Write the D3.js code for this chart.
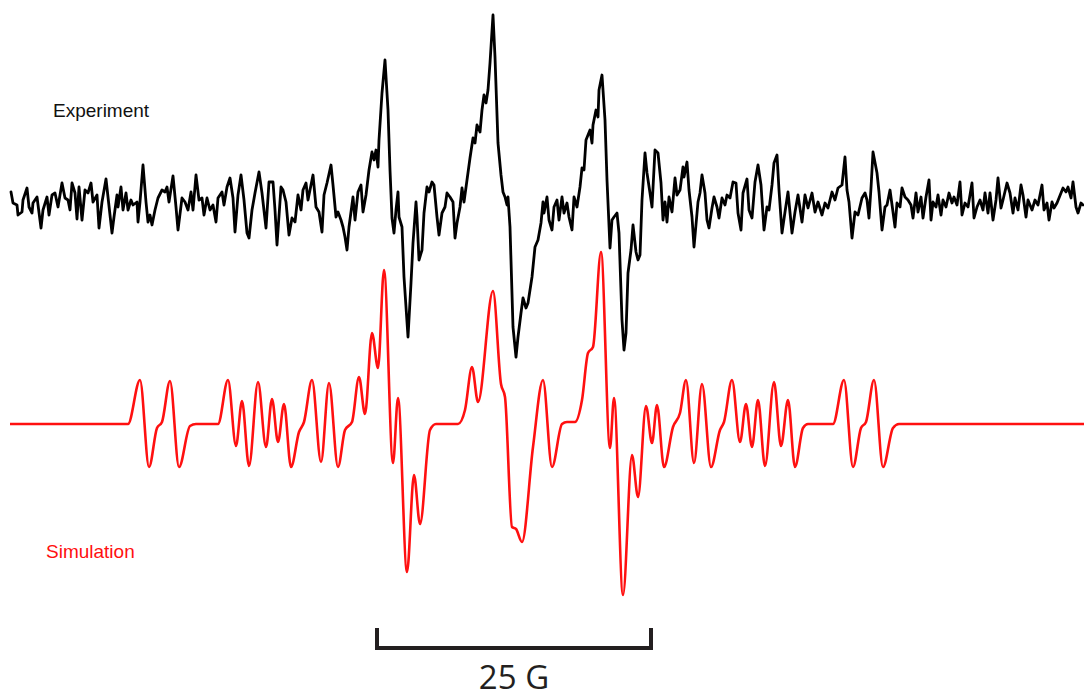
<!DOCTYPE html>
<html>
<head>
<meta charset="utf-8">
<script src="https://cdn.jsdelivr.net/npm/d3@7"></script>
<style>
  html, body { margin: 0; padding: 0; background: #fff; }
  svg { display: block; }
</style>
</head>
<body>
<svg id="chart" width="1084" height="700"></svg>
<script>
// ---- Data (field position in sweep units, signal in arbitrary units) ----
const seriesLabels = ["Experiment", "Simulation"];

const experiment = [[11,8],[13,-3],[17,-5],[18,-15],[22,-12],[23,0],[27,12],[29,-7],[32,-13],[33,-3],[37,3],[41,-28],[43,-10],[47,3],[49,-15],[52,5],[55,7],[58,-7],[62,17],[65,2],[68,0],[70,-10],[72,17],[75,7],[77,-19],[79,13],[82,-20],[85,10],[88,7],[91,17],[93,-2],[97,5],[99,-28],[102,-2],[106,21],[108,3],[112,-33],[114,-17],[117,5],[118,-7],[121,13],[123,-10],[126,7],[128,-10],[131,0],[133,-5],[137,-2],[138,-22],[140,-2],[143,35],[146,-2],[148,-22],[150,-15],[152,-25],[155,-10],[158,2],[162,10],[165,8],[167,13],[169,-2],[173,24],[176,-7],[178,-30],[182,2],[185,-2],[188,-10],[191,8],[193,-10],[196,25],[199,0],[202,2],[204,-15],[207,2],[210,-10],[213,-5],[216,-22],[218,2],[222,8],[224,-5],[227,13],[230,22],[233,2],[235,-32],[238,5],[241,25],[244,0],[247,-33],[249,-38],[252,-10],[255,7],[259,28],[262,7],[266,-28],[269,18],[273,18],[275,-10],[277,-45],[281,13],[283,10],[286,-2],[289,-35],[292,-18],[295,-22],[298,5],[301,-10],[303,10],[306,17],[308,0],[313,25],[316,-7],[319,-12],[322,-32],[324,5],[327,17],[331,35],[333,15],[336,-17],[338,-12],[341,-20],[343,-27],[345,-37],[347,-50],[349,-27],[353,3],[355,-20],[358,8],[361,15],[363,-12],[366,5],[369,30],[372,48],[374,40],[376,50],[378,33],[379,60],[382,107],[385,140],[388,90],[390,30],[392,-18],[394,-33],[396,-10],[398,8],[399,-17],[402,-27],[404,-77],[408,-137],[411,-83],[413,-43],[416,-2],[417,-17],[419,-60],[422,-50],[424,-13],[427,13],[429,8],[432,18],[434,15],[437,-17],[439,-35],[442,-13],[445,-7],[447,7],[450,3],[453,-2],[455,-38],[457,-23],[460,-7],[462,12],[464,-2],[467,20],[470,42],[473,62],[475,57],[477,75],[480,68],[482,90],[484,105],[486,97],[488,110],[490,137],[493,185],[495,143],[498,57],[501,25],[503,8],[505,3],[507,-5],[508,3],[510,-27],[513,-127],[516,-157],[518,-137],[521,-113],[523,-98],[526,-108],[528,-103],[532,-77],[535,-47],[538,-40],[541,-23],[543,-2],[544,-13],[547,3],[549,-20],[552,-30],[554,-7],[557,0],[559,-20],[562,3],[564,-13],[567,-3],[569,-17],[572,-30],[574,3],[577,-7],[580,13],[582,32],[584,30],[586,60],[588,65],[590,70],[592,57],[593,75],[596,90],[598,83],[599,110],[602,125],[605,80],[607,20],[610,-48],[612,-20],[614,-17],[617,-13],[619,-33],[622,-120],[624,-150],[626,-133],[628,-73],[631,-50],[633,-25],[636,-52],[638,-60],[640,-55],[642,0],[645,47],[647,27],[650,7],[652,-7],[655,50],[658,47],[661,17],[663,-20],[665,-2],[667,-22],[669,3],[672,-12],[675,22],[677,5],[680,10],[683,33],[684,23],[687,38],[689,10],[692,-17],[694,-47],[698,-2],[700,7],[702,25],[705,7],[707,-20],[709,-28],[712,-8],[714,3],[717,-7],[719,-18],[722,2],[725,-5],[727,5],[730,2],[733,18],[736,17],[738,-13],[741,-30],[743,7],[747,21],[749,-10],[752,-18],[755,18],[758,35],[761,15],[764,-30],[767,-7],[769,-10],[772,15],[774,37],[777,45],[779,10],[782,-33],[785,-12],[788,8],[792,-33],[795,-12],[798,5],[802,-22],[805,5],[808,-8],[812,7],[815,-12],[818,-2],[822,-15],[825,-3],[828,-8],[832,8],[835,0],[838,12],[842,15],[845,43],[847,10],[849,-2],[852,-38],[855,-12],[858,-15],[862,2],[865,7],[867,0],[869,-18],[871,12],[873,48],[877,27],[879,8],[882,-30],[885,-7],[887,-5],[890,10],[893,-12],[895,-27],[897,-3],[900,-7],[902,12],[905,3],[908,0],[911,-5],[913,-18],[916,7],[918,-12],[921,3],[923,-18],[926,3],[929,20],[931,-20],[933,-2],[936,-7],[938,5],[941,-15],[943,0],[946,-7],[949,7],[952,-3],[954,3],[957,-5],[960,18],[962,-15],[965,-3],[968,-7],[972,17],[974,-18],[977,-7],[980,0],[983,-10],[985,7],[988,-13],[990,7],[993,-20],[996,0],[998,22],[1001,-8],[1003,0],[1007,17],[1010,7],[1013,-13],[1015,2],[1018,-10],[1021,15],[1023,5],[1026,-17],[1028,0],[1032,-10],[1035,0],[1038,-5],[1042,15],[1044,-10],[1047,-3],[1049,-20],[1052,-2],[1054,-8],[1057,-3],[1059,2],[1063,12],[1066,8],[1068,13],[1071,2],[1073,18],[1076,-7],[1078,-13],[1081,-3],[1083,-5]];

const simulation = [[10,0],[128,0],[140,44],[149,-43],[157,-4],[162,2],[170,43],[179,-43],[190,-2],[196,0],[218,0],[228,44],[236,-22],[242,23],[249,-42],[258,42],[266,-23],[272,25],[278,-18],[284,20],[291,-43],[299,-8],[304,2],[312,44],[321,-38],[329,41],[338,-43],[345,-6],[352,2],[359,47],[365,10],[372,91],[378,56],[384,154],[393,-39],[398,26],[407,-148],[414,-51],[420,-100],[430,-6],[436,0],[458,0],[465,14],[472,57],[478,22],[493,133],[501,40],[505,27],[512,-103],[516,-105],[522,-118],[533,-23],[543,44],[552,-43],[562,0],[567,2],[575,2],[582,24],[588,71],[593,77],[601,172],[610,-24],[614,26],[623,-171],[632,-31],[638,-73],[646,18],[652,-19],[657,19],[664,-43],[673,-3],[680,11],[686,44],[694,-39],[702,40],[711,-43],[720,-6],[724,2],[732,44],[740,-18],[746,20],[752,-23],[758,24],[765,-42],[774,42],[781,-22],[788,24],[795,-43],[803,-4],[808,0],[833,0],[844,44],[853,-43],[861,-4],[866,2],[874,44],[883,-43],[893,-4],[899,0],[1084,0]];

// scale bar: 25 G expressed in sweep units
const scaleBarField = [377, 651];
const scaleBarLabel = "25 G";

// ---- Drawing ----
const svg = d3.select("#chart");

const x = d3.scaleLinear().domain([10, 1084]).range([10, 1084]);
const yExp = d3.scaleLinear().domain([-160, 190]).range([360, 10]);
const ySim = d3.scaleLinear().domain([-180, 175]).range([604, 249]);

const expLine = d3.line()
  .x(d => x(d[0])).y(d => yExp(d[1]))
  .curve(d3.curveLinear);

const simLine = d3.line()
  .x(d => x(d[0])).y(d => ySim(d[1]))
  .curve(d3.curveMonotoneX);

svg.append("path")
  .datum(simulation)
  .attr("d", simLine)
  .attr("fill", "none")
  .attr("stroke", "#ff1010")
  .attr("stroke-width", 2.6)
  .attr("stroke-linejoin", "round");

svg.append("path")
  .datum(experiment)
  .attr("d", expLine)
  .attr("fill", "none")
  .attr("stroke", "#000")
  .attr("stroke-width", 2.8)
  .attr("stroke-linejoin", "round")
  .attr("stroke-linecap", "round");

svg.append("text")
  .attr("x", 53).attr("y", 117)
  .attr("font-family", "Liberation Sans, Arial, sans-serif")
  .attr("font-size", 19)
  .attr("fill", "#111")
  .text(seriesLabels[0]);

svg.append("text")
  .attr("x", 46).attr("y", 558)
  .attr("font-family", "Liberation Sans, Arial, sans-serif")
  .attr("font-size", 19)
  .attr("fill", "#ff1010")
  .text(seriesLabels[1]);

// scale bar
const sb = svg.append("g");
const by = 648;
sb.append("path")
  .attr("d", `M${x(scaleBarField[0])},628 L${x(scaleBarField[0])},${by} L${x(scaleBarField[1])},${by} L${x(scaleBarField[1])},628`)
  .attr("fill", "none")
  .attr("stroke", "#231f20")
  .attr("stroke-width", 4)
  .attr("stroke-linejoin", "miter");

sb.append("text")
  .attr("x", (x(scaleBarField[0]) + x(scaleBarField[1])) / 2)
  .attr("y", 689)
  .attr("text-anchor", "middle")
  .attr("font-family", "Open Sans, sans-serif")
  .attr("font-size", 33)
  .attr("fill", "#231f20")
  .text(scaleBarLabel);
</script>
</body>
</html>
